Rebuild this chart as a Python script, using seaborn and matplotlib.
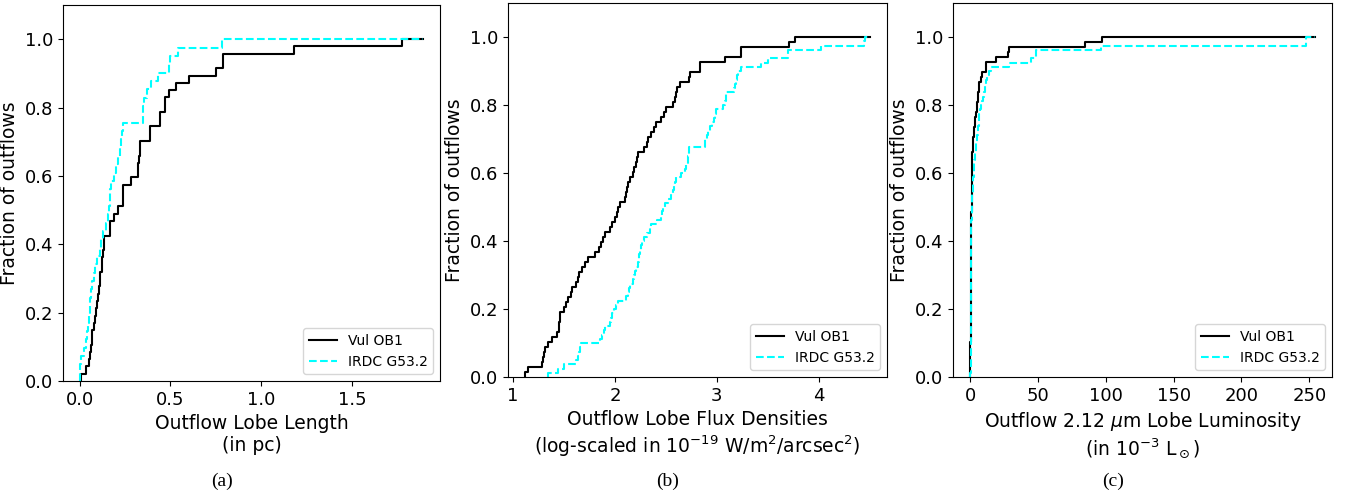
import numpy as np
import pandas as pd
import matplotlib
matplotlib.use("Agg")
import matplotlib.pyplot as plt
import seaborn as sns

# ---------------- data ----------------
series_labels = ["Vul OB1", "IRDC G53.2"]
series_colors = ["black", "cyan"]
series_styles = ["-", "--"]

# (a) Outflow lobe length (pc)
a_vul = [0.01, 0.033, 0.05, 0.058, 0.062, 0.066, 0.07, 0.078, 0.085, 0.088,
         0.095, 0.1, 0.105, 0.11, 0.115, 0.122, 0.126, 0.13, 0.134, 0.137,
         0.165, 0.165, 0.192, 0.21, 0.238, 0.238, 0.238, 0.284, 0.32, 0.32,
         0.326, 0.33, 0.33, 0.385, 0.385, 0.44, 0.44, 0.47, 0.47, 0.49,
         0.53, 0.605, 0.751, 0.787, 0.787, 1.181, 1.777]
a_irdc = [0.003, 0.005, 0.008, 0.025, 0.035, 0.04, 0.045, 0.05, 0.055, 0.06,
          0.065, 0.07, 0.078, 0.085, 0.095, 0.11, 0.12, 0.13, 0.145, 0.155,
          0.16, 0.165, 0.17, 0.174, 0.192, 0.2, 0.21, 0.22, 0.23, 0.235,
          0.238, 0.35, 0.35, 0.352, 0.37, 0.394, 0.43, 0.495, 0.497, 0.54,
          0.782]

# (b) Outflow lobe flux densities (log-scaled)
b_vul = [1.12, 1.15, 1.28, 1.29, 1.30, 1.31, 1.34, 1.38, 1.43, 1.45,
         1.455, 1.46, 1.465, 1.50, 1.52, 1.54, 1.57, 1.58, 1.62, 1.64,
         1.645, 1.68, 1.71, 1.735, 1.80, 1.84, 1.866, 1.88, 1.90, 1.948,
         1.97, 1.997, 2.02, 2.035, 2.046, 2.095, 2.11, 2.12, 2.128, 2.15,
         2.177, 2.19, 2.21, 2.22, 2.226, 2.29, 2.31, 2.324, 2.357, 2.38,
         2.406, 2.448, 2.48, 2.497, 2.569, 2.585, 2.60, 2.608, 2.641, 2.73,
         2.74, 2.837, 2.837, 3.08, 3.24, 3.24, 3.706, 3.77]
b_irdc = [1.343, 1.44, 1.50, 1.62, 1.635, 1.645, 1.66, 1.67, 1.85, 1.87,
          1.89, 1.90, 1.95, 1.96, 1.975, 1.99, 2.013, 2.03, 2.11, 2.13,
          2.14, 2.144, 2.176, 2.19, 2.20, 2.21, 2.225, 2.235, 2.24, 2.245,
          2.26, 2.27, 2.281, 2.31, 2.34, 2.357, 2.41, 2.455, 2.465, 2.47,
          2.49, 2.52, 2.55, 2.57, 2.58, 2.59, 2.60, 2.65, 2.683, 2.70,
          2.716, 2.72, 2.725, 2.73, 2.88, 2.88, 2.90, 2.915, 2.93, 2.95,
          2.97, 2.985, 2.994, 3.06, 3.075, 3.085, 3.09, 3.17, 3.175, 3.19,
          3.20, 3.21, 3.24, 3.43, 3.50, 3.70, 3.70, 4.02, 4.44, 4.45]

# (c) Outflow 2.12 um lobe luminosity (1e-3 Lsun)
c_vul = [0.1, 0.15, 0.2, 0.22, 0.25, 0.28, 0.3, 0.32, 0.35, 0.37,
         0.4, 0.42, 0.45, 0.47, 0.5, 0.52, 0.55, 0.57, 0.6, 0.62,
         0.65, 0.67, 0.7, 0.72, 0.75, 0.77, 0.8, 0.82, 0.85, 0.87,
         0.9, 0.95, 1.0, 1.05, 1.15, 1.2, 1.25, 1.3, 1.35, 1.4,
         1.45, 1.5, 1.55, 1.6, 1.7, 1.9, 2.2, 2.5, 2.7, 2.95,
         3.3, 3.7, 4.2, 5.0, 5.4, 5.8, 6.1, 6.3, 6.6, 7.9,
         8.6, 11.6, 11.6, 19.4, 28.0, 28.8, 84.6, 97.1]
c_irdc = [0.3, 0.33, 0.35, 0.37, 0.38, 0.41, 0.43, 0.44, 0.47, 0.49,
          0.5, 0.53, 0.55, 0.56, 0.58, 0.61, 0.62, 0.65, 0.67, 0.68,
          0.7, 0.73, 0.74, 0.76, 0.79, 0.8, 0.82, 0.85, 0.86, 0.88,
          0.9, 0.93, 0.94, 0.96, 0.99, 1.0, 1.02, 1.05, 1.06, 1.08,
          1.3, 1.5, 1.7, 1.9, 2.1, 2.3, 2.5, 2.7, 2.85, 2.95,
          3.2, 3.5, 3.8, 4.0, 4.2, 4.8, 5.4, 5.7, 6.0, 6.2,
          6.4, 6.6, 7.3, 8.0, 8.6, 9.5, 10.3, 10.8, 11.2, 11.6,
          12.8, 14.0, 15.2, 28.8, 44.7, 48.4, 48.4, 96.4, 247.6, 247.6]

# common right end of the plotted cumulative curves in each panel
curve_end = [1.89, 4.50, 254.0]

x_labels = [
    "Outflow Lobe Length\n(in pc)",
    "Outflow Lobe Flux Densities\n(log-scaled in $10^{-19}$ W/m$^2$/arcsec$^2$)",
    "Outflow 2.12 $\\mu$m Lobe Luminosity\n(in $10^{-3}$ L$_\\odot$)",
]
y_label = "Fraction of outflows"
captions = ["(a)", "(b)", "(c)"]

panels = [(a_vul, a_irdc), (b_vul, b_irdc), (c_vul, c_irdc)]

# ---------------- figure ----------------
W, H = 1346, 496
fig = plt.figure(figsize=(W / 100, H / 100), dpi=100)

# axes boxes in pixels: left, top, right, bottom
boxes = [(63, 5, 440, 381), (508, 3, 887, 377), (953, 3, 1332, 377)]
caption_x = [222, 668, 1113]

for i, ((vul, irdc), box) in enumerate(zip(panels, boxes)):
    l, t, r, b = box
    ax = fig.add_axes([l / W, 1 - b / H, (r - l) / W, (b - t) / H])
    for vals, lab, col, ls in zip((vul, irdc), series_labels, series_colors, series_styles):
        df = pd.DataFrame({
            "value": list(vals) + [curve_end[i]],
            "w": [1.0] * len(vals) + [0.0],
        })
        sns.ecdfplot(data=df, x="value", weights="w", ax=ax, color=col,
                     linestyle=ls, linewidth=1.5, label=lab)
    ax.set_ylim(0, 1.1)
    ax.set_xlabel(x_labels[i], fontsize=13.5)
    ax.set_ylabel(y_label, fontsize=13.5)
    ax.tick_params(labelsize=13)
    ax.legend(loc="lower right", fontsize=10)
    fig.text(caption_x[i] / W, 1 - 481 / H, captions[i], ha="center", va="center",
             family="Liberation Serif", fontsize=14)

fig.savefig("out.png", dpi=100)
